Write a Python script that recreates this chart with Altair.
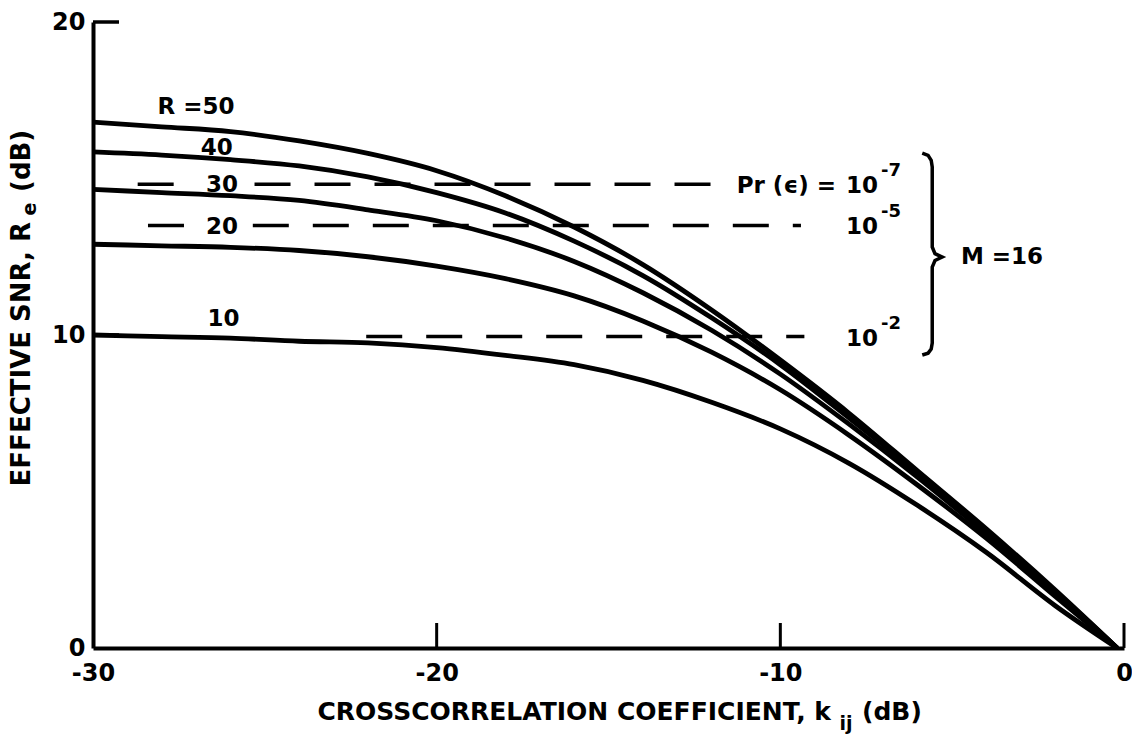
import altair as alt
import pandas as pd

# ---- data ----
k_db = [-30, -28, -26, -24, -22, -20, -18, -16, -14, -12, -10, -8, -6, -4, -2, -0.2]
R_values = [50, 40, 30, 20, 10]
snr_R50 = [16.8, 16.65, 16.5, 16.2, 15.8, 15.25, 14.45, 13.45, 12.25, 10.8, 9.2, 7.5, 5.65, 3.8, 1.85, 0.0]
snr_R40 = [15.85, 15.75, 15.6, 15.4, 15.05, 14.55, 13.9, 13.0, 11.9, 10.55, 9.05, 7.35, 5.6, 3.75, 1.8, 0.0]
snr_R30 = [14.65, 14.55, 14.45, 14.3, 14.0, 13.65, 13.1, 12.35, 11.35, 10.15, 8.75, 7.15, 5.45, 3.65, 1.8, 0.0]
snr_R20 = [12.9, 12.85, 12.8, 12.7, 12.5, 12.2, 11.8, 11.25, 10.45, 9.45, 8.25, 6.8, 5.2, 3.5, 1.65, 0.0]
snr_R10 = [10.0, 9.95, 9.9, 9.8, 9.75, 9.6, 9.35, 9.05, 8.55, 7.85, 7.0, 5.9, 4.55, 3.05, 1.35, 0.0]

# Pr(e) threshold levels (dashed)
pr_exps = ["-7", "-5", "-2"]
pr_levels = [14.82, 13.5, 9.95]
seg_level = [14.82, 14.82, 13.5, 13.5, 9.95]
seg_start = [-28.7, -25.3, -28.4, -25.35, -22.05]
seg_end = [-27.6, -11.7, -27.3, -9.4, -9.3]

# curve labels
curve_labels = ["R =50", "40", "30", "20", "10"]
curve_label_x = [-27.0, -26.4, -26.25, -26.25, -26.2]
curve_label_y = [17.3, 15.97, 14.8, 13.45, 10.5]

# brace
brace_x = [-5.87, -5.70, -5.61, -5.58, -5.58, -5.50, -5.29, -5.50, -5.58, -5.58, -5.61, -5.70, -5.87]
brace_y = [15.81, 15.74, 15.58, 15.37, 12.81, 12.60, 12.49, 12.38, 12.17, 9.74, 9.55, 9.42, 9.36]

x_ticks = [-30, -20, -10, 0]
y_ticks = [0, 10, 20]
x_inner_ticks = [-20, -10, 0]
y_inner_ticks = [10, 20]

FONT = "DejaVu Sans"
W, H = 1031, 626
LEFT, TOP = 93, 22

series = {50: snr_R50, 40: snr_R40, 30: snr_R30, 20: snr_R20, 10: snr_R10}
rows = []
for r in R_values:
    for xv, yv in zip(k_db, series[r]):
        rows.append({"R": r, "k": xv, "snr": yv})
df_lines = pd.DataFrame(rows)

xs = alt.Scale(domain=[-30, 0], nice=False, zero=False)
ys = alt.Scale(domain=[0, 20], nice=False, zero=False)

X = alt.X("k:Q", scale=xs, axis=alt.Axis(
    values=x_ticks, title=None, grid=False, ticks=False, domain=True,
    domainColor="black", domainWidth=4, labelFont=FONT, labelFontSize=24,
    labelFontWeight="bold", labelColor="black", labelPadding=13,
    labelFlush=False, labelExpr="toString(datum.value)"))
Y = alt.Y("snr:Q", scale=ys, axis=alt.Axis(
    values=y_ticks, title=None, grid=False, ticks=False, domain=True,
    domainColor="black", domainWidth=4, labelFont=FONT, labelFontSize=24,
    labelFontWeight="bold", labelColor="black", labelPadding=8,
    labelFlush=False))

lines = alt.Chart(df_lines).mark_line(
    color="black", strokeWidth=4.8, interpolate="monotone"
).encode(x=X, y=Y, detail="R:N")

df_seg = pd.DataFrame({"lvl": seg_level, "x0": seg_start, "x1": seg_end})
dashes = alt.Chart(df_seg).mark_rule(
    color="black", strokeWidth=3.5, strokeDash=[36, 24]
).encode(x=alt.X("x0:Q", scale=xs), x2="x1:Q", y=alt.Y("lvl:Q", scale=ys))

df_cl = pd.DataFrame({"t": curve_labels, "x": curve_label_x, "y": curve_label_y})
clabels = alt.Chart(df_cl).mark_text(
    font=FONT, fontSize=23, fontWeight="bold", color="black", align="center", baseline="middle"
).encode(x=alt.X("x:Q", scale=xs), y=alt.Y("y:Q", scale=ys), text="t:N")

df_pr = pd.DataFrame({"lvl": pr_levels, "e": pr_exps, "ten": ["10"] * 3})
ten_text = alt.Chart(df_pr).mark_text(
    font=FONT, fontSize=23, fontWeight="bold", color="black", align="right", baseline="middle", dy=2
).encode(x=alt.value(878 - LEFT), y=alt.Y("lvl:Q", scale=ys), text="ten:N")
exp_text = alt.Chart(df_pr).mark_text(
    font=FONT, fontSize=18, fontWeight="bold", color="black", align="left", baseline="middle", dy=-13
).encode(x=alt.value(881 - LEFT), y=alt.Y("lvl:Q", scale=ys), text="e:N")

df_pr_top = pd.DataFrame({"lvl": [pr_levels[0]], "t": ["Pr (ϵ) ="]})
pr_text = alt.Chart(df_pr_top).mark_text(
    font=FONT, fontSize=23, fontWeight="bold", color="black", align="right", baseline="middle", dy=2
).encode(x=alt.value(836 - LEFT), y=alt.Y("lvl:Q", scale=ys), text="t:N")

df_brace = pd.DataFrame({"x": brace_x, "y": brace_y, "o": list(range(len(brace_x)))})
brace = alt.Chart(df_brace).mark_line(color="black", strokeWidth=3.5).encode(
    x=alt.X("x:Q", scale=xs), y=alt.Y("y:Q", scale=ys), order="o:O")

df_m = pd.DataFrame({"x": [-3.55], "y": [12.49], "t": ["M =16"]})
m_text = alt.Chart(df_m).mark_text(
    font=FONT, fontSize=23, fontWeight="bold", color="black", align="center", baseline="middle"
).encode(x=alt.X("x:Q", scale=xs), y=alt.Y("y:Q", scale=ys), text="t:N")

# inward ticks
df_xt = pd.DataFrame({"k": x_inner_ticks})
xticks = alt.Chart(df_xt).mark_rule(color="black", strokeWidth=3).encode(
    x=alt.X("k:Q", scale=xs), y=alt.value(H), y2=alt.value(H - 25))
df_yt = pd.DataFrame({"v": y_inner_ticks})
yticks = alt.Chart(df_yt).mark_rule(color="black", strokeWidth=3.5).encode(
    y=alt.Y("v:Q", scale=ys), x=alt.value(0), x2=alt.value(26))

# titles (pixel placement relative to the plot area)
one = pd.DataFrame({"a": [0]})

def txt(s, x, y, size=23, align="center", angle=0):
    kw = dict(font=FONT, fontSize=size, fontWeight="bold", color="black",
              align=align, baseline="middle")
    if angle:
        kw["angle"] = angle
    return alt.Chart(one).mark_text(**kw).encode(
        x=alt.value(x - LEFT), y=alt.value(y - TOP), text=alt.value(s))

xtitle = [
    txt("CROSSCORRELATION COEFFICIENT, k", 831, 712, size=25, align="right"),
    txt("ij", 846, 724, size=19),
    txt("(dB)", 862, 712, size=25, align="left"),
]
ytitle = [
    txt("EFFECTIVE SNR, R", 22, 222, size=26, align="right", angle=270),
    txt("e", 30, 209, size=19, angle=270),
    txt("(dB)", 22, 192, size=26, align="left", angle=270),
]

chart = alt.layer(
    lines, dashes, clabels, ten_text, exp_text, pr_text, brace, m_text,
    xticks, yticks, *xtitle, *ytitle
).properties(
    width=W, height=H,
    padding={"left": LEFT, "top": TOP, "right": 8, "bottom": 93},
    autosize=alt.AutoSizeParams(type="none"),
    background="white",
).configure_view(stroke=None)

chart.save("out.html", embed_options={"renderer": "svg", "actions": False})
